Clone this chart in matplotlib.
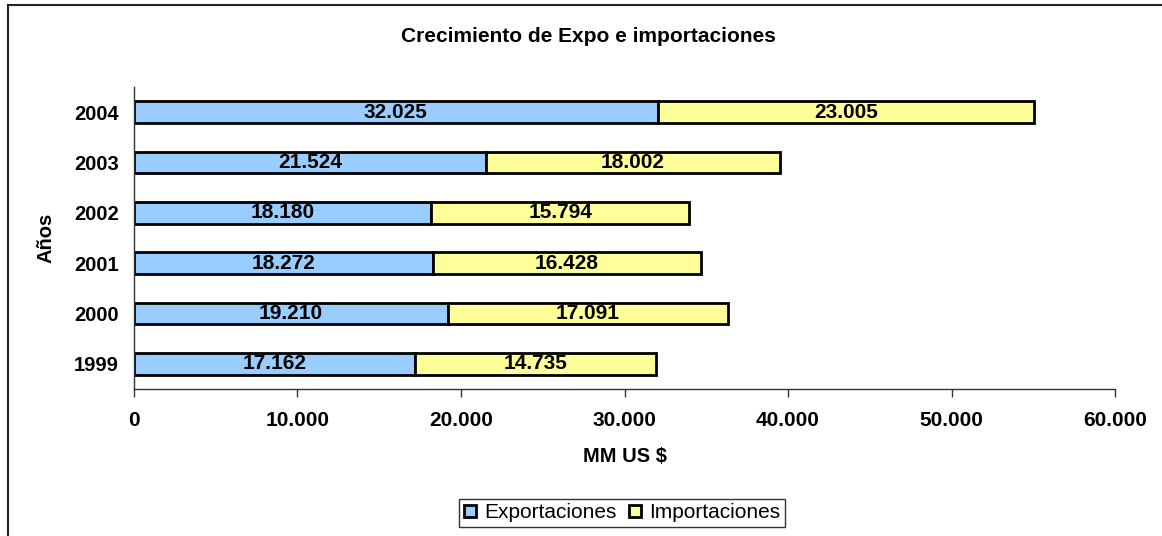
import matplotlib
matplotlib.use("Agg")
import matplotlib.pyplot as plt
from matplotlib.lines import Line2D
from matplotlib.ticker import FuncFormatter

plt.rcParams['font.family'] = ['Liberation Sans', 'DejaVu Sans']

years = ["1999", "2000", "2001", "2002", "2003", "2004"]
exportaciones = [17162, 19210, 18272, 18180, 21524, 32025]
importaciones = [14735, 17091, 16428, 15794, 18002, 23005]

blue = "#99CCFF"
yellow = "#FFFF99"


def miles(v):
    # 32025 -> "32.025"
    return f"{int(round(v)):,}".replace(",", ".")


fig = plt.figure(figsize=(11.62, 5.36), dpi=100)
ax = fig.add_axes([0.1153, 0.2743, 0.8443, 0.5634])

pos = range(len(years))
bars_exp = ax.barh(pos, exportaciones, height=0.43, color=blue,
                   edgecolor="black", linewidth=2, label="Exportaciones")
bars_imp = ax.barh(pos, importaciones, left=exportaciones, height=0.43,
                   color=yellow, edgecolor="black", linewidth=2,
                   label="Importaciones")

for bars, vals, base in [(bars_exp, exportaciones, [0] * len(years)),
                         (bars_imp, importaciones, exportaciones)]:
    for y, v, b in zip(pos, vals, base):
        ax.text(b + v / 2, y, miles(v), ha="center", va="center",
                fontsize=15, fontweight="bold")

ax.set_xlim(0, 60000)
ax.set_ylim(-0.5, len(years) - 0.5)
ax.set_xticks(range(0, 60001, 10000))
ax.xaxis.set_major_formatter(FuncFormatter(lambda v, p: miles(v)))
ax.set_yticks(list(pos))
ax.set_yticklabels(years)

for s in ["top", "right"]:
    ax.spines[s].set_visible(False)
for s in ["left", "bottom"]:
    ax.spines[s].set_color("#333333")
    ax.spines[s].set_linewidth(1)

ax.tick_params(axis="x", direction="out", length=6, width=1, pad=10,
               colors="#333333", labelcolor="black", labelsize=15)
ax.tick_params(axis="y", length=0, pad=11, labelsize=14.5)
for lab in ax.get_xticklabels() + ax.get_yticklabels():
    lab.set_fontweight("bold")

ax.set_xlabel("MM US $", fontsize=14.5, fontweight="bold", labelpad=12)
ax.set_ylabel("Años", fontsize=14.5, fontweight="bold", labelpad=13)
fig.text(0.506, 0.932, "Crecimiento de Expo e importaciones",
         ha="center", va="center", fontsize=15, fontweight="bold")

handles = [Line2D([0], [0], marker="s", linestyle="none", markersize=8,
                  markerfacecolor=c, markeredgecolor="black",
                  markeredgewidth=2) for c in (blue, yellow)]
leg = fig.legend(handles, ["Exportaciones", "Importaciones"],
                 loc="center", bbox_to_anchor=(0.5349, 0.043), ncol=2,
                 fontsize=15, frameon=True, fancybox=False,
                 handlelength=0.7, handletextpad=0.35, columnspacing=0.5,
                 borderpad=0.2, borderaxespad=0)
leg.get_frame().set_edgecolor("black")
leg.get_frame().set_linewidth(1)

# chart area border (runs off the right and bottom edges)
fig.add_artist(Line2D([8 / 1162, 1], [1 - 5 / 536, 1 - 5 / 536],
                      color="#222222", linewidth=1.5,
                      transform=fig.transFigure))
fig.add_artist(Line2D([8 / 1162, 8 / 1162], [0, 1 - 5 / 536],
                      color="#222222", linewidth=1.5,
                      transform=fig.transFigure))

fig.savefig("out.png", dpi=100)
